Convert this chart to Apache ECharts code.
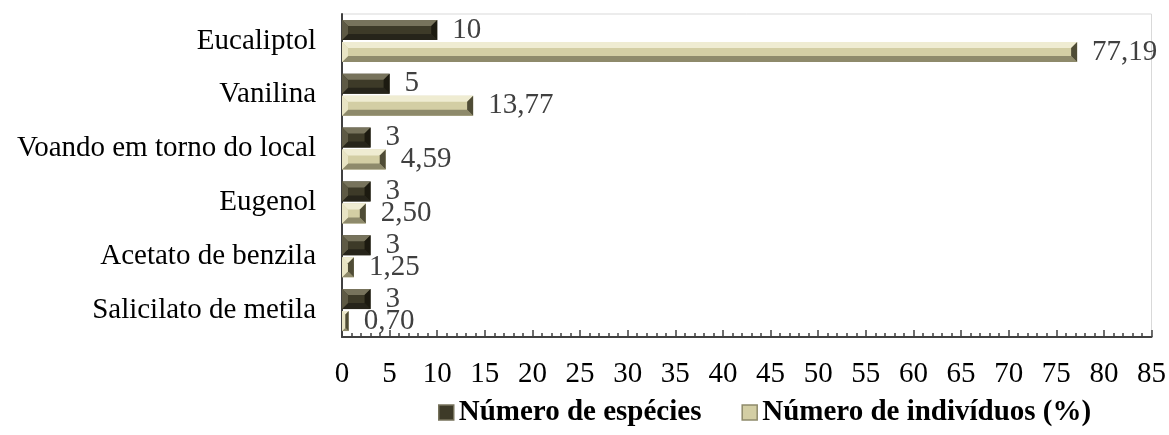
<!DOCTYPE html>
<html>
<head>
<meta charset="utf-8">
<script src="https://cdn.jsdelivr.net/npm/echarts@6/dist/echarts.min.js"></script>
<style>
  html, body { margin: 0; padding: 0; background: #fff; }
  #chart { width: 1169px; height: 435px; }
</style>
</head>
<body>
<div id="chart"></div>
<script>
// Atratores (categorias, de cima para baixo)
const categories = [
  'Eucaliptol',
  'Vanilina',
  'Voando em torno do local',
  'Eugenol',
  'Acetato de benzila',
  'Salicilato de metila'
];
const seriesNames = ['Número de espécies', 'Número de indivíduos (%)'];
const especies = [10, 5, 3, 3, 3, 3];
const individuos = [77.19, 13.77, 4.59, 2.50, 1.25, 0.70];
const xTicks = { min: 0, max: 85, step: 5 };

const FONT = '"Liberation Serif", "Times New Roman", serif';
const FS = 29;

// Bevelled bar palettes: face, top, left, bottom, right
const palettes = [
  { face: '#3d3a28', top: '#77735c', left: '#5e5a45', bottom: '#26241a', right: '#1c1a10' },
  { face: '#d3cea4', top: '#efecd2', left: '#e8e4c4', bottom: '#8e8a6b', right: '#4f4c36' }
];

function fmt(v, dec) {
  return dec ? v.toFixed(dec).replace('.', ',') : String(v);
}

function makeRender(seriesIdx, dec) {
  const pal = palettes[seriesIdx];
  return function (params, api) {
    const cat = api.value(0);
    const val = api.value(1);
    const base = api.coord([0, cat]);
    const end = api.coord([val, cat]);
    const band = api.size([0, 1])[1];
    const bh = band * 0.372;
    const gap = band * 0.037;
    const y0 = seriesIdx === 0 ? base[1] - gap / 2 - bh : base[1] + gap / 2;
    const y1 = y0 + bh;
    const x0 = base[0];
    const x1 = end[0];
    const b = Math.max(0, Math.min(6, (x1 - x0) / 2, bh / 2));
    const poly = (pts, fill) => ({ type: 'polygon', shape: { points: pts }, style: { fill: fill } });
    const children = [
      { type: 'rect', shape: { x: x0, y: y0, width: x1 - x0, height: bh }, style: { fill: pal.face } },
      poly([[x0, y0], [x1, y0], [x1 - b, y0 + b], [x0 + b, y0 + b]], pal.top),
      poly([[x0, y1], [x1, y1], [x1 - b, y1 - b], [x0 + b, y1 - b]], pal.bottom),
      poly([[x0, y0], [x0 + b, y0 + b], [x0 + b, y1 - b], [x0, y1]], pal.left),
      poly([[x1, y0], [x1 - b, y0 + b], [x1 - b, y1 - b], [x1, y1]], pal.right),
      {
        type: 'text',
        style: {
          text: fmt(val, dec),
          x: x1 + 15,
          y: (y0 + y1) / 2,
          align: 'left',
          verticalAlign: 'middle',
          font: FS + 'px ' + FONT,
          fill: '#404040'
        }
      }
    ];
    return { type: 'group', children: children };
  };
}

const chart = echarts.init(document.getElementById('chart'), null, { renderer: 'canvas' });

chart.setOption({
  animation: false,
  backgroundColor: '#ffffff',
  textStyle: { fontFamily: FONT },
  grid: {
    left: 342, right: 14, top: 14, bottom: 98,
    show: true, borderColor: '#d9d9d9', borderWidth: 1
  },
  legend: {
    left: 433,
    top: 393,
    itemWidth: 15,
    itemHeight: 15,
    itemGap: 40,
    icon: 'rect',
    textStyle: { fontFamily: FONT, fontSize: FS, fontWeight: 'bold', color: '#000' },
    data: [
      { name: seriesNames[0], itemStyle: { color: palettes[0].face, borderColor: palettes[0].top, borderWidth: 1.5 } },
      { name: seriesNames[1], itemStyle: { color: palettes[1].face, borderColor: palettes[1].bottom, borderWidth: 1.5 } }
    ]
  },
  xAxis: {
    type: 'value',
    min: xTicks.min,
    max: xTicks.max,
    interval: xTicks.step,
    axisLine: { show: true, lineStyle: { color: '#404040', width: 2 } },
    axisTick: { show: true, inside: true, length: 7, lineStyle: { color: '#404040', width: 1.5 } },
    minorTick: { show: true, splitNumber: 5, length: 4, lineStyle: { color: '#404040', width: 1.5 } },
    splitLine: { show: false },
    axisLabel: { color: '#000', fontSize: FS, fontFamily: FONT, margin: 23 }
  },
  yAxis: {
    type: 'category',
    inverse: true,
    data: categories,
    axisLine: { show: true, lineStyle: { color: '#404040', width: 2 } },
    axisTick: { show: false },
    axisLabel: { color: '#000', fontSize: FS, fontFamily: FONT, margin: 26 }
  },
  series: [
    {
      name: seriesNames[0],
      type: 'custom',
      itemStyle: { color: palettes[0].face },
      encode: { x: 1, y: 0 },
      data: especies.map((v, i) => [i, v]),
      renderItem: makeRender(0, 0),
      z: 3
    },
    {
      name: seriesNames[1],
      type: 'custom',
      itemStyle: { color: palettes[1].face },
      encode: { x: 1, y: 0 },
      data: individuos.map((v, i) => [i, v]),
      renderItem: makeRender(1, 2),
      z: 3
    }
  ]
});
</script>
</body>
</html>
